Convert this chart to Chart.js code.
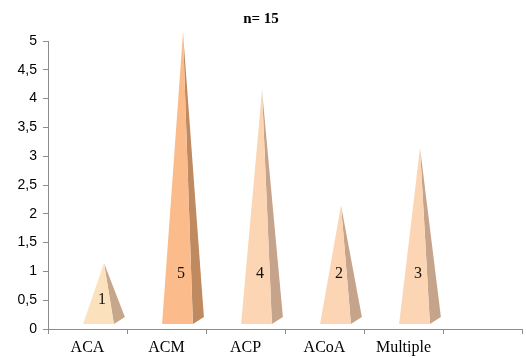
<!DOCTYPE html>
<html>
<head>
<meta charset="utf-8">
<script src="https://cdn.jsdelivr.net/npm/chart.js@4"></script>
<style>
  html, body { margin: 0; padding: 0; background: #fff; }
  #wrap { width: 526px; height: 358px; }
</style>
</head>
<body>
<div id="wrap"><canvas id="pyramidChart" width="526" height="358"></canvas></div>
<script>
const categories = ["ACA", "ACM", "ACP", "ACoA", "Multiple", ""];
const counts = [1, 5, 4, 2, 3, null];
const yTicks = [0, 0.5, 1, 1.5, 2, 2.5, 3, 3.5, 4, 4.5, 5];

const frontColors = ["#fbe2bd", "#fbbb8a", "#fcd6b4", "#fcd6b4", "#fcd6b4", "#fcd6b4"];
const sideColors = ["#c6a78b", "#bf8a60", "#c6a48b", "#c6a48b", "#c6a48b", "#c6a48b"];

// draws each bar as a 3d pyramid using the bar element geometry
const pyramidPlugin = {
  id: "pyramids",
  afterDatasetsDraw(chart) {
    const ctx = chart.ctx;
    const yScale = chart.scales.y;
    const meta = chart.getDatasetMeta(0);
    const zeroY = yScale.getPixelForValue(0);
    const dx = 11, dy = 7, lift = 5, shift = 11;

    meta.data.forEach((bar, i) => {
      const v = counts[i];
      if (v == null) return;
      const w = bar.width;
      const fl = bar.x - w / 2 + shift;
      const fr = fl + w;
      const by = zeroY - lift;
      const ax = (fl + fr) / 2 + dx / 2;
      const ay = yScale.getPixelForValue(v) - lift - dy / 2;

      ctx.save();
      // side face
      ctx.beginPath();
      ctx.moveTo(fr, by);
      ctx.lineTo(fr + dx, by - dy);
      ctx.lineTo(ax, ay);
      ctx.closePath();
      ctx.fillStyle = sideColors[i];
      ctx.fill();

      // front face
      ctx.beginPath();
      ctx.moveTo(fl, by);
      ctx.lineTo(fr, by);
      ctx.lineTo(ax, ay);
      ctx.closePath();
      ctx.fillStyle = frontColors[i];
      ctx.fill();

      // value label
      const labelVal = Math.min(v * 0.5, 0.95);
      ctx.fillStyle = "#111";
      ctx.font = "16px 'Liberation Serif', serif";
      ctx.textAlign = "center";
      ctx.textBaseline = "middle";
      ctx.fillText(String(v), ax - 2, yScale.getPixelForValue(labelVal));
      ctx.restore();
    });
  },
};

new Chart(document.getElementById("pyramidChart"), {
  type: "bar",
  data: {
    labels: categories,
    datasets: [
      {
        label: "n",
        data: counts,
        backgroundColor: "rgba(0,0,0,0)",
        borderWidth: 0,
        categoryPercentage: 1,
        barPercentage: 0.39,
      },
    ],
  },
  options: {
    responsive: false,
    animation: false,
    layout: { padding: { left: 0, right: 4, top: 0, bottom: 0 } },
    scales: {
      x: {
        afterFit: (axis) => {
          axis.height = 29;
        },
        grid: {
          drawOnChartArea: false,
          tickLength: 5,
          color: "#8c8c8c",
        },
        border: { color: "#8c8c8c", width: 1 },
        ticks: {
          color: "#000",
          padding: 4,
          font: { family: "'Liberation Serif', serif", size: 16 },
        },
      },
      y: {
        min: 0,
        max: 5,
        afterBuildTicks: (axis) => {
          axis.ticks = yTicks.map((v) => ({ value: v }));
        },
        afterFit: (axis) => {
          axis.width = 48;
        },
        grid: {
          drawOnChartArea: false,
          tickLength: 5,
          color: "#8c8c8c",
        },
        border: { color: "#8c8c8c", width: 1 },
        ticks: {
          color: "#000",
          padding: 6,
          font: { family: "'Liberation Sans', sans-serif", size: 14 },
          callback: (value) => String(value).replace(".", ","),
        },
      },
    },
    plugins: {
      legend: { display: false },
      tooltip: { enabled: false },
      title: {
        display: true,
        text: "n= 15",
        color: "#000",
        font: { family: "'Liberation Serif', serif", size: 15, weight: "bold" },
        padding: { top: 10, bottom: 13 },
      },
    },
  },
  plugins: [pyramidPlugin],
});
</script>
</body>
</html>
